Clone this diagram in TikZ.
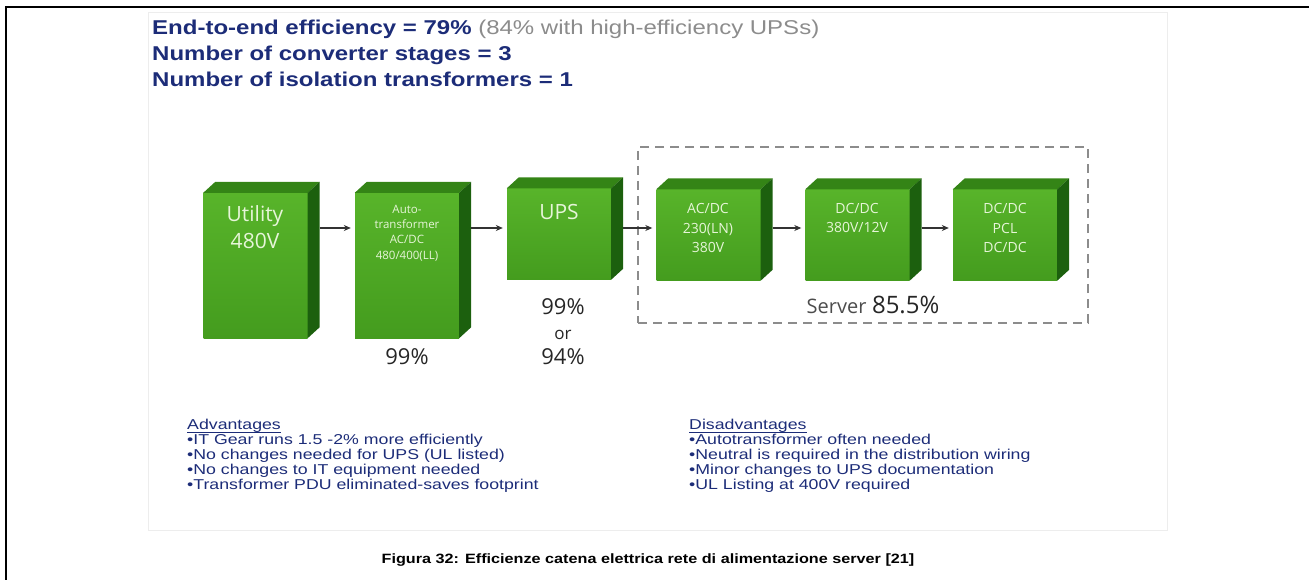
\documentclass[tikz,border=0pt]{standalone}
\usepackage{fontspec}
\setmainfont{Liberation Sans}
\newfontfamily\boxfont{Open Sans}
\newfontfamily\widefont[FakeStretch=1.2]{Liberation Sans}
\newfontfamily\listfont[FakeStretch=1.24]{Liberation Sans}
\usetikzlibrary{arrows.meta, calc, positioning}
\definecolor{slidenavy}{RGB}{28,44,120}
\definecolor{slidegray}{RGB}{140,140,140}
\definecolor{cubefront}{RGB}{68,156,30}
\definecolor{cubelight}{RGB}{88,180,42}
\definecolor{cubetop}{RGB}{52,132,22}
\definecolor{cubeside}{RGB}{28,96,14}
\definecolor{cubetext}{RGB}{230,245,216}
\newcommand{\fs}[2]{\fontsize{#1}{#2}\selectfont}
\newcommand{\listhead}[1]{\underline{\raisebox{0pt}[\height][1.5pt]{#1}}}

\begin{document}
\begin{tikzpicture}[x=1pt, y=-1pt, >=Stealth,
    cube/.style={rectangle, inner sep=0pt, minimum width=104pt, minimum height=91pt, top color=cubelight, bottom color=cubefront},
    tallcube/.style={cube, minimum height=145pt},
    cubelabel/.style={align=center, text=cubetext, inner sep=0pt},
    flow/.style={->, draw=black!80, line width=1.3pt, >={Stealth[length=7pt,width=6pt]}},
    pct/.style={align=center, text=black!85, inner sep=0pt},
    slide/.style={anchor=base west, text=slidenavy, inner sep=0pt, font=\widefont\bfseries\fs{20}{24}},
    list/.style={anchor=north west, align=left, text=slidenavy, inner sep=0pt, font=\listfont\fs{14.3}{15}},
    serverbox/.style={draw=black!45, line width=1.6pt, dash pattern=on 9pt off 6pt, inner sep=0pt}]
    \useasboundingbox (0,0) rectangle (1309,580);
    % page frame and slide panel
    \draw[line width=2pt] (6,580) -- (6,7) -- (1309,7);
    \draw[black!7] (148,12) rectangle (1167,530);

    \node[slide] (eff) at (152,35) {End-to-end efficiency = 79\% {\mdseries\color{slidegray}(84\% with high-efficiency UPSs)}};
    \node[slide] (stages) at (152,61) {Number of converter stages = 3};
    \node[slide] (iso) at (152,87) {Number of isolation transformers = 1};

    \node[serverbox, minimum width=450pt, minimum height=176pt] (srv) at (863,235) {};

    \node[tallcube] (util) at (255.5,265.5) {};
    \node[tallcube] (auto) at (407,265.5) {};
    \node[cube] (ups) at (559,234) {};
    \node[cube] (acdc) at (708.5,235) {};
    \node[cube] (dcdc) at (857.5,235) {};
    \node[cube] (pcl) at (1005,235) {};
    \foreach \b in {util,auto,ups,acdc,dcdc,pcl} {
        \fill[cubetop] (\b.north west) -- ++(12,-11) -- ($(\b.north east)+(12,-11)$) -- (\b.north east) -- cycle;
        \fill[cubeside] (\b.north east) -- ++(12,-11) -- ($(\b.south east)+(12,-11)$) -- (\b.south east) -- cycle;
    }

    \coordinate (flowy) at (0,228);
    \foreach \a/\b in {util/auto, auto/ups, ups/acdc, acdc/dcdc, dcdc/pcl}
        \draw[flow] ($(\a.east |- flowy)+(12,0)$) -- ($(\b.west |- flowy)+(-4,0)$);

    \node[cubelabel, font=\boxfont\fs{21}{27}] (utilT) at (255,227) {Utility\\480V};
    \node[cubelabel, font=\boxfont\fs{11.5}{15.3}] (autoT) at (407,233) {Auto-\\transformer\\AC/DC\\480/400(LL)};
    \node[cubelabel, font=\boxfont\fs{21}{27}] (upsT) at (559,212) {UPS};
    \node[cubelabel, font=\boxfont\fs{14}{19.5}] (acdcT) at (708,228) {AC/DC\\230(LN)\\380V};
    \node[cubelabel, font=\boxfont\fs{14}{19.5}] (dcdcT) at (857,218) {DC/DC\\380V/12V};
    \node[cubelabel, font=\boxfont\fs{14}{19.5}] (pclT) at (1005,228) {DC/DC\\PCL\\DC/DC};

    \node[pct, font=\boxfont\fs{22}{25}] (autoP) at (407,357) {99\%};
    \node[pct, font=\boxfont\fs{22}{25}] (upsP) at (563,332) {99\%\\{\fs{17}{25}or}\\94\%};
    \node[pct, font=\boxfont] (srvP) at (873,305) {{\color{black!70}\fs{20}{24}Server}\hspace{3pt} {\fs{24}{28}85.5\%}};

    \node[list] (adv) at (187,419) {\listhead{Advantages}\\•IT Gear runs 1.5 -2\% more efficiently\\•No changes needed for UPS (UL listed)\\•No changes to IT equipment needed\\•Transformer PDU eliminated-saves footprint};
    \node[list] (dis) at (689,419) {\listhead{Disadvantages}\\•Autotransformer often needed\\•Neutral is required in the distribution wiring\\•Minor changes to UPS documentation\\•UL Listing at 400V required};

    \node[font=\widefont\bfseries\fs{13.5}{16}, inner sep=0pt] (cap) at (648,560) {Figura 32: Efficienze catena elettrica rete di alimentazione server [21]};
\end{tikzpicture}
\end{document}
